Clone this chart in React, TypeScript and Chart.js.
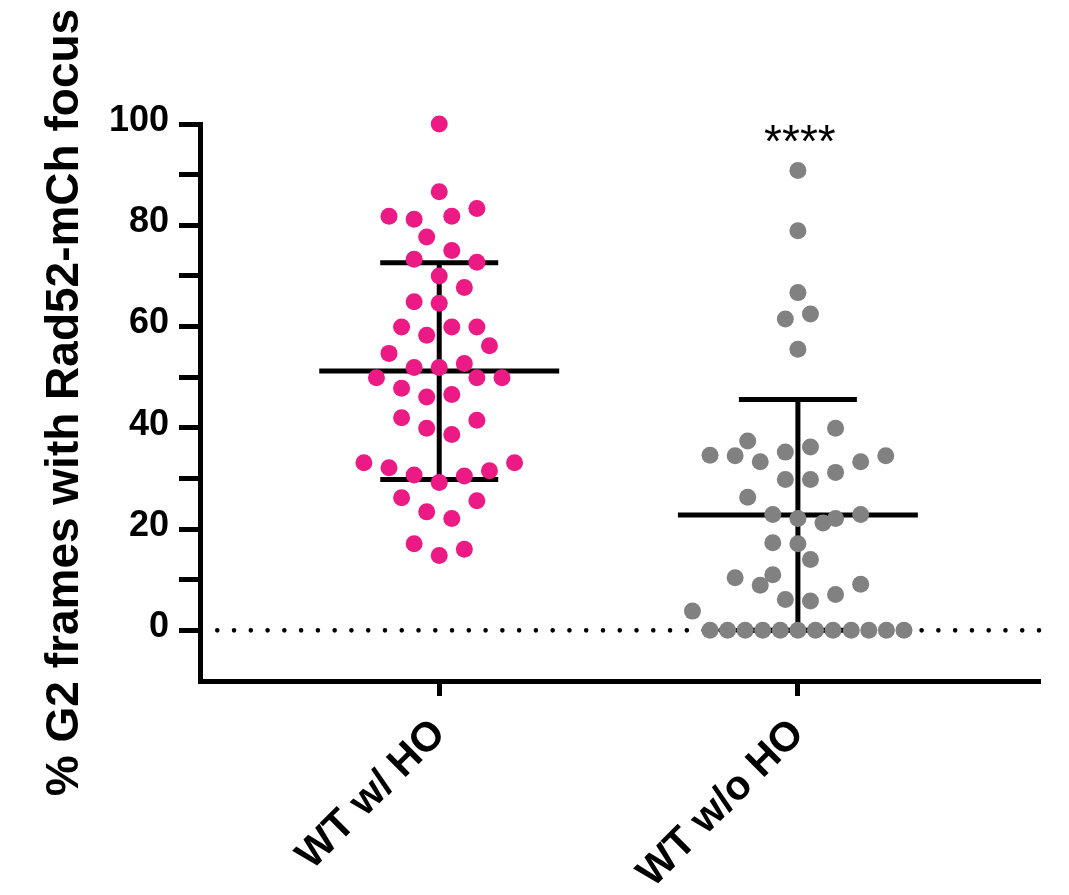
import React, { useEffect, useRef } from 'react';
import { Chart, registerables } from 'chart.js';

Chart.register(...registerables);

// ---------- data ----------
const categories = ['WT w/ HO', 'WT w/o HO'];

const withHOValues = [
  100, 86.6, 81.8, 81.2, 81.8, 83.3, 77.7, 75.0, 73.3, 72.7, 70.0, 67.7,
  64.9, 64.6, 59.9, 59.9, 59.9, 58.3, 56.2, 54.7, 51.9, 51.9, 52.7, 49.9,
  49.9, 49.9, 47.8, 46.1, 46.6, 42.0, 41.5, 39.9, 38.7, 33.1, 32.1, 30.7,
  29.2, 30.5, 31.5, 33.1, 26.2, 25.6, 23.4, 22.1, 17.1, 14.8, 16.0,
];
// horizontal swarm slot of each dot (in dot half-widths)
const withHOSlots = [
  0, 0, -4, -2, 1, 3, -1, 1, -2, 3, 0, 2,
  -2, 0, -3, 1, 3, -1, 4, -4, -2, 0, 2, -5,
  3, 5, -3, -1, 1, -3, 3, -1, 1, -6, -4, -2,
  0, 2, 4, 6, -3, 3, -1, 1, -2, 0, 2,
];

const withoutHOValues = [
  90.8, 78.9, 66.7, 61.5, 62.5, 55.5, 39.9, 37.4, 34.6, 34.5, 33.3, 35.2,
  36.2, 34.5, 33.3, 31.2, 29.8, 29.8, 26.3, 22.9, 22.1, 21.2, 22.1, 22.9,
  17.3, 17.1, 14.0, 10.4, 11.0, 8.9, 9.1, 7.1, 6.1, 5.8, 3.8,
  0, 0, 0, 0, 0, 0, 0, 0, 0, 0, 0, 0,
];
const withoutHOSlots = [
  0, 0, 0, -1, 1, 0, 3, -4, -7, -5, -3, -1,
  1, 7, 5, 3, -1, 1, -4, -2, 0, 2, 3, 5,
  -2, 0, 1, -5, -2, -3, 5, 3, -1, 1, -8.4,
  -7, -5.6, -4.2, -2.8, -1.4, 0, 1.4, 2.8, 4.25, 5.65, 7.05, 8.45,
];

const means = [51.2, 22.8];
const sds = [21.4, 22.8];
const yTickValues = [0, 10, 20, 30, 40, 50, 60, 70, 80, 90, 100];
const significanceLabel = '****';
const significanceY = 93;
const yTitle = '% G2 frames with Rad52-mCh focus';

const PINK = '#EC1A84';
const GREY = '#818181';
const SLOT = 0.035;
const MEAN_HALF = 0.3345;
const CAP_HALF = 0.1645;
const FONT = '"Liberation Sans", Arial, Helvetica, sans-serif';

const toPoints = (vals: number[], slots: number[], cat: number) =>
  vals.map((v, i) => ({ x: cat + slots[i] * SLOT, y: v }));

const overlayPlugin = {
  id: 'overlay',
  beforeDatasetsDraw(chart: any) {
    const { ctx, chartArea, scales } = chart;
    const xs = scales.x;
    const ys = scales.y;
    ctx.save();
    // dotted zero line
    ctx.strokeStyle = '#000';
    ctx.lineWidth = 4.6;
    ctx.lineCap = 'round';
    ctx.setLineDash([0, 16.77]);
    const y0 = ys.getPixelForValue(0);
    ctx.beginPath();
    ctx.moveTo(chartArea.left + 0.5, y0);
    ctx.lineTo(chartArea.right, y0);
    ctx.stroke();
    ctx.setLineDash([]);
    // mean / SD bars
    ctx.lineCap = 'butt';
    ctx.lineWidth = 5;
    means.forEach((m, i) => {
      const c = i + 1;
      const cx = xs.getPixelForValue(c);
      const yMean = ys.getPixelForValue(m);
      const yHi = ys.getPixelForValue(m + sds[i]);
      const yLo = ys.getPixelForValue(Math.max(m - sds[i], 0));
      ctx.beginPath();
      ctx.moveTo(xs.getPixelForValue(c - MEAN_HALF), yMean);
      ctx.lineTo(xs.getPixelForValue(c + MEAN_HALF), yMean);
      ctx.moveTo(cx, yHi);
      ctx.lineTo(cx, yLo);
      ctx.moveTo(xs.getPixelForValue(c - CAP_HALF), yHi);
      ctx.lineTo(xs.getPixelForValue(c + CAP_HALF), yHi);
      ctx.moveTo(xs.getPixelForValue(c - CAP_HALF), yLo);
      ctx.lineTo(xs.getPixelForValue(c + CAP_HALF), yLo);
      ctx.stroke();
    });
    ctx.restore();
  },
  afterDatasetsDraw(chart: any) {
    const { ctx, scales } = chart;
    ctx.save();
    ctx.fillStyle = '#000';
    ctx.font = `normal 46px ${FONT}`;
    ctx.textAlign = 'center';
    ctx.textBaseline = 'alphabetic';
    ctx.fillText(significanceLabel, scales.x.getPixelForValue(2) + 2, scales.y.getPixelForValue(significanceY) - 2);
    ctx.restore();
  },
};

export default function App() {
  const canvasRef = useRef<HTMLCanvasElement | null>(null);

  useEffect(() => {
    document.body.style.margin = '0';
    const canvas = canvasRef.current;
    if (!canvas) return;
    const chart = new Chart(canvas, {
      type: 'scatter',
      data: {
        datasets: [
          {
            label: categories[0],
            data: toPoints(withHOValues, withHOSlots, 1),
            backgroundColor: PINK,
            borderWidth: 0,
            pointRadius: 8.5,
            pointHoverRadius: 8.5,
            clip: false,
          },
          {
            label: categories[1],
            data: toPoints(withoutHOValues, withoutHOSlots, 2),
            backgroundColor: GREY,
            borderWidth: 0,
            pointRadius: 8.5,
            pointHoverRadius: 8.5,
            clip: false,
          },
        ],
      },
      options: {
        animation: false,
        responsive: false,
        devicePixelRatio: 1,
        layout: { padding: { top: 124, right: 29, bottom: 0, left: 0 } },
        plugins: { legend: { display: false }, tooltip: { enabled: false } },
        events: [],
        scales: {
          x: {
            type: 'linear',
            min: 0.333,
            max: 2.675,
            afterFit: (s: any) => { s.height = 214; },
            afterBuildTicks: (s: any) => { s.ticks = [{ value: 1 }, { value: 2 }]; },
            grid: { drawOnChartArea: false, drawTicks: true, tickLength: 15, tickWidth: 5, tickColor: '#000' },
            border: { display: true, width: 5, color: '#000' },
            ticks: {
              autoSkip: false,
              minRotation: 45,
              maxRotation: 45,
              padding: 14,
              color: '#000',
              font: { family: FONT, size: 41, weight: 'bold' },
              callback: (v: any) => categories[Number(v) - 1] ?? '',
            },
          },
          y: {
            type: 'linear',
            min: -10,
            max: 100,
            afterFit: (s: any) => { s.width = 200; },
            afterBuildTicks: (s: any) => { s.ticks = yTickValues.map((v) => ({ value: v })); },
            grid: { drawOnChartArea: false, drawTicks: true, tickLength: 21, tickWidth: 5, tickColor: '#000' },
            border: { display: true, width: 5, color: '#000' },
            ticks: {
              autoSkip: false,
              padding: 10,
              labelOffset: -3,
              color: '#000',
              font: { family: FONT, size: 36, weight: 'bold' },
              callback: (v: any) => (Number(v) % 20 === 0 ? String(v) : ''),
            },
            title: {
              display: true,
              text: yTitle,
              color: '#000',
              padding: { top: 38, bottom: 0 },
              font: { family: FONT, size: 46, weight: 'bold' },
            },
          },
        },
      },
      plugins: [overlayPlugin],
    });
    return () => chart.destroy();
  }, []);

  return (
    <div style={{ width: 1069, height: 895 }}>
      <canvas ref={canvasRef} width={1069} height={895} style={{ display: 'block' }} />
    </div>
  );
}
